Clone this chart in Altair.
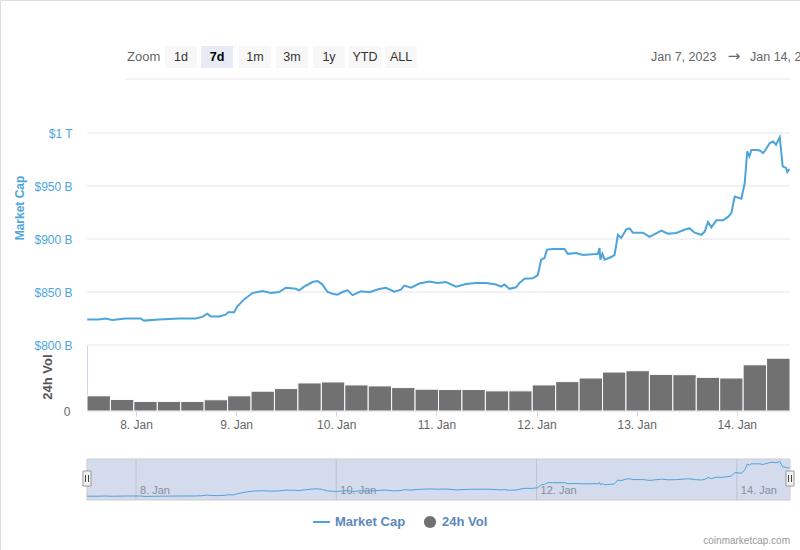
import altair as alt
import pandas as pd

# ---------------- data ----------------
# market cap (billions USD), hours since 2023-01-07 00:00
mc_hours = [12.3, 15.1, 16.7, 18.3, 21.5, 25.1, 25.9, 29.5, 34.3, 38.3,
            39.9, 41.1, 41.9, 43.9, 45.5, 46.1, 47.5, 48.3, 49.9, 51.9,
            54.3, 56.3, 58.3, 59.9, 62.3, 63.1, 64.3, 66.3, 67.5, 68.7,
            69.9, 71.1, 72.3, 73.5, 74.7, 75.9, 77.9, 79.9, 82.3, 83.9,
            85.9, 87.5, 88.3, 89.9, 91.9, 94.3, 96.3, 98.3, 100.7, 103.1,
            105.5, 107.9, 110.3, 111.5, 112.3, 113.5, 115.1, 115.9, 117.1, 119.1,
            120.3, 121.1, 121.9, 122.5, 123.9, 126.7, 127.5, 129.5, 131.1, 133.5,
            134.7, 135.1, 135.3, 135.8, 136.3, 137.9, 138.7, 139.5, 140.3, 141.5,
            142.3, 143.1, 145.5, 147.1, 149.9, 151.5, 153.5, 155.9, 156.7, 157.9,
            159.5, 160.3, 161.1, 161.9, 163.1, 164.7, 165.9, 166.7, 167.5, 169.1,
            169.9, 170.5, 171.0, 171.5, 172.7, 173.5, 174.3, 174.7, 175.9, 176.7,
            177.4, 178.3, 179.0, 179.8, 180.1, 180.6]
mc_values = [824, 824, 825, 823.7, 825, 825, 823, 824, 825, 825,
             826.5, 829.6, 827, 827, 828.6, 831, 831, 836.5, 843, 849,
             851, 849, 850, 854, 853, 851.6, 855, 859.4, 860.4, 857,
             850, 848.4, 847.5, 850, 851.6, 847, 850.6, 849.7, 852.8, 854,
             850.3, 852.2, 856, 854, 858, 860, 858.5, 859.4, 855, 857.5,
             858.5, 858.5, 857, 855, 857, 853, 854.4, 858.5, 862.6, 863,
             866, 880.5, 882, 890, 890.6, 890.6, 886, 886.8, 885, 885.5,
             886, 891.5, 880.5, 886, 880.5, 883, 885, 904, 901, 909,
             910, 906, 906, 902, 908, 905, 905.7, 909.4, 910, 906,
             904, 907, 916, 911, 917.6, 917.6, 920.8, 924.5, 940, 938,
             952.8, 982.7, 978, 984, 984, 983.6, 981, 983, 990.6, 992,
             989, 996, 968.6, 967, 963, 966]
# 24h volume (billions USD), one value per column
vol_values = [23, 17.5, 14.5, 14.5, 14.5, 17, 23, 30, 34, 42.5,
              44, 39.5, 38, 35.5, 33, 32.5, 32.5, 30.5, 30.5, 39.5,
              44.5, 50, 59, 61, 55.5, 55, 51, 50, 70, 80]
mc_ticks = [800, 850, 900, 950, 1000]
day_ticks = [8, 9, 10, 11, 12, 13, 14]
nav_days = ["2023-01-08", "2023-01-10", "2023-01-12", "2023-01-14"]
buttons = ["1d", "7d", "1m", "3m", "1y", "YTD", "ALL"]
selected_button = "7d"
range_from = "Jan 7, 2023"
range_to = "Jan 14, 2023"

# ---------------- frames ----------------
t0 = pd.Timestamp("2023-01-07 00:00")
start = pd.Timestamp("2023-01-07 12:15")
end = pd.Timestamp("2023-01-14 12:45")
mc_df = pd.DataFrame({"t": t0 + pd.to_timedelta(mc_hours, unit="h"), "mc": mc_values})
n = len(vol_values)
step = (end - start) / n
vol_df = pd.DataFrame({
    "t0": [start + i * step for i in range(n)],
    "t1": [start + (i + 1) * step for i in range(n)],
    "vol": vol_values,
})
nav_df = pd.DataFrame({"d": pd.to_datetime(nav_days)})
dummy = pd.DataFrame({"k": [0]})

FONT = "Liberation Sans"
BLUE = "#4ca4dc"
BAR = "#717171"
LEG = "#5b88bd"

x_scale = alt.Scale(
    domain=[alt.DateTime(year=2023, month=1, date=7, hours=12, minutes=15),
            alt.DateTime(year=2023, month=1, date=14, hours=12, minutes=45)],
    range=[87, 790])
x_axis = alt.Axis(orient="bottom", offset=-139,
                  values=[alt.DateTime(year=2023, month=1, date=d) for d in day_ticks],
                  format="%-d. %b", labelColor="#666666", labelFontSize=12, labelFont=FONT,
                  tickSize=5, tickColor="#ccd6eb", domainColor="#ccd6eb", grid=False,
                  title=None, labelPadding=3, labelFlush=False)
mc_scale = alt.Scale(domain=[800, 1000], range=[345, 133], nice=False, zero=False)
mc_axis = alt.Axis(orient="left", offset=-87, values=mc_ticks,
                   labelExpr="datum.value >= 1000 ? '$1 T' : '$' + datum.value + ' B'",
                   labelColor=BLUE, labelFontSize=12, labelFont=FONT, labelPadding=15,
                   ticks=False, domain=False, grid=False, title=None, labelFlush=False)
vol_scale = alt.Scale(domain=[0, 100], range=[411, 345], nice=False)
vol_axis = alt.Axis(orient="left", offset=-87, values=[0], labelColor="#666666",
                    labelFontSize=12, labelFont=FONT, labelPadding=17, ticks=False,
                    labelBaseline="middle",
                    domain=True, domainColor="#ccd6eb", grid=False, title=None, labelFlush=False)
nav_scale = alt.Scale(domain=[820, 998], range=[497, 461], nice=False, zero=False)


def X(field):
    return alt.X(field, scale=x_scale, axis=x_axis)


layers = []

# market cap grid + axis
layers.append(alt.Chart(pd.DataFrame({"v": mc_ticks})).mark_rule(color="#e6e6e6", strokeWidth=1).encode(
    x=alt.value(87), x2=alt.value(790), y=alt.Y("v:Q", scale=mc_scale, axis=mc_axis)))

# volume columns
layers.append(alt.Chart(vol_df).mark_rect(color=BAR, stroke="white", strokeWidth=1).encode(
    x=X("t0:T"), x2="t1:T",
    y=alt.Y("vol:Q", scale=vol_scale, axis=vol_axis), y2=alt.datum(0)))

# market cap line
layers.append(alt.Chart(mc_df).mark_line(color=BLUE, strokeWidth=2).encode(
    x=X("t:T"), y=alt.Y("mc:Q", scale=mc_scale, axis=None)))

# navigator
layers.append(alt.Chart(dummy).mark_rect(fill="#d3dbed", stroke="#cccccc", strokeWidth=1).encode(
    x=alt.value(87), x2=alt.value(790), y=alt.value(459), y2=alt.value(500)))
layers.append(alt.Chart(nav_df).mark_rule(color="#bcc3d2", strokeWidth=1).encode(
    x=X("d:T"), y=alt.value(459), y2=alt.value(500)))
layers.append(alt.Chart(nav_df).mark_text(align="left", baseline="middle", dx=4, fontSize=11,
                                          font=FONT, color="#8a8f99").encode(
    x=X("d:T"), y=alt.value(491), text=alt.Text("d:T", format="%-d. %b")))
layers.append(alt.Chart(mc_df).mark_line(color=BLUE, strokeWidth=1).encode(
    x=X("t:T"), y=alt.Y("mc:Q", scale=nav_scale, axis=None)))
for cx in (87, 790):
    layers.append(alt.Chart(dummy).mark_rect(fill="#f2f2f2", stroke="#999999", strokeWidth=1).encode(
        x=alt.value(cx - 4), x2=alt.value(cx + 4), y=alt.value(471), y2=alt.value(486)))
    for dxl in (-1.5, 1.5):
        layers.append(alt.Chart(dummy).mark_rule(color="#444444", strokeWidth=1).encode(
            x=alt.value(cx + dxl), y=alt.value(475), y2=alt.value(482)))

# axis titles
layers.append(alt.Chart(dummy).mark_text(text="Market Cap", angle=270, fontSize=12, fontWeight="bold",
                                         font=FONT, color=BLUE).encode(x=alt.value(20), y=alt.value(208)))
layers.append(alt.Chart(dummy).mark_text(text="24h Vol", angle=270, fontSize=13, fontWeight="bold",
                                         font=FONT, color="#555555").encode(x=alt.value(48), y=alt.value(377)))

# range selector
layers.append(alt.Chart(dummy).mark_text(text="Zoom", fontSize=13, font=FONT, color="#666666",
                                         align="left", baseline="middle").encode(
    x=alt.value(127), y=alt.value(57)))
centers = [181, 217, 255, 292, 329, 365, 401]
for lab, cx in zip(buttons, centers):
    sel = lab == selected_button
    layers.append(alt.Chart(dummy).mark_rect(fill="#e6ebf5" if sel else "#f7f7f7").encode(
        x=alt.value(cx - 16), x2=alt.value(cx + 16), y=alt.value(46), y2=alt.value(68)))
    layers.append(alt.Chart(dummy).mark_text(text=lab, fontSize=12.5, font=FONT,
                                             fontWeight="bold" if sel else "normal",
                                             color="#000000" if sel else "#333333",
                                             baseline="middle").encode(
        x=alt.value(cx), y=alt.value(57)))
layers.append(alt.Chart(dummy).mark_text(text=range_from, fontSize=12.5, font=FONT, color="#666666",
                                         align="left", baseline="middle").encode(
    x=alt.value(651), y=alt.value(57)))
layers.append(alt.Chart(dummy).mark_text(text="→", fontSize=15, font="DejaVu Sans", color="#666666",
                                         baseline="middle").encode(x=alt.value(734), y=alt.value(56)))
layers.append(alt.Chart(dummy).mark_text(text=range_to, fontSize=12.5, font=FONT, color="#666666",
                                         align="left", baseline="middle").encode(
    x=alt.value(750), y=alt.value(57)))
layers.append(alt.Chart(dummy).mark_rule(color="#e6e6e6", strokeWidth=1).encode(
    x=alt.value(125), x2=alt.value(790), y=alt.value(79)))

# legend
layers.append(alt.Chart(dummy).mark_rule(color=BLUE, strokeWidth=2).encode(
    x=alt.value(313), x2=alt.value(330), y=alt.value(522)))
layers.append(alt.Chart(dummy).mark_text(text="Market Cap", fontSize=13, fontWeight="bold", font=FONT,
                                         color=LEG, align="left", baseline="middle").encode(
    x=alt.value(335), y=alt.value(522)))
layers.append(alt.Chart(dummy).mark_point(filled=True, shape="circle", size=150, color=BAR, opacity=1).encode(
    x=alt.value(430), y=alt.value(522)))
layers.append(alt.Chart(dummy).mark_text(text="24h Vol", fontSize=13, fontWeight="bold", font=FONT,
                                         color=LEG, align="left", baseline="middle").encode(
    x=alt.value(442), y=alt.value(522)))
layers.append(alt.Chart(dummy).mark_text(text="coinmarketcap.com", fontSize=10, font=FONT,
                                         color="#999999", align="right", baseline="middle").encode(
    x=alt.value(790), y=alt.value(541)))

chart = alt.layer(*layers).resolve_scale(y="independent").properties(
    width=800, height=550, autosize=alt.AutoSizeParams(type="none"), padding=0,
    background="white"
).configure_view(stroke=None).configure(font=FONT)

chart.save("out.html", embed_options={"renderer": "svg", "actions": False})
